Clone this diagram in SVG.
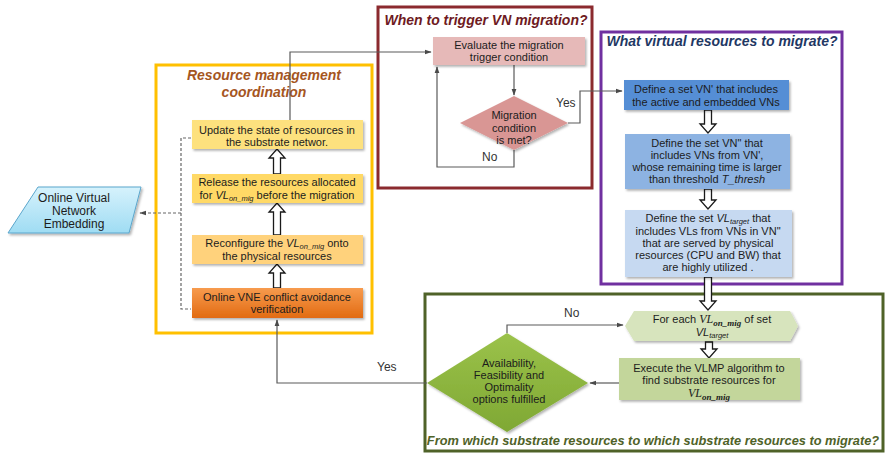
<svg xmlns="http://www.w3.org/2000/svg" width="886" height="454" viewBox="0 0 886 454">
  <style>
    text { font-family: "Liberation Sans", Arial, sans-serif; font-size: 11px; fill: #1c1c1c; }
    .c { text-anchor: middle; }
    .title { font-weight: bold; font-style: italic; }
    .lbl { font-size: 12px; fill: #333; }
    .frame { fill: #ffffff; stroke-width: 3; }
    .box { filter: url(#shadow); }
    .conn { fill: none; stroke: #5a5a5a; stroke-width: 1.2; }
    .dash { fill: none; stroke: #666; stroke-width: 1.2; stroke-dasharray: 3 2; }
    .block { fill: #ffffff; stroke: #1a1a1a; stroke-width: 1.3; stroke-linejoin: miter; }
    .it { font-style: italic; }
    .sub { font-style: italic; font-size: 7.5px; }
    .math { font-family: "Liberation Serif", "Times New Roman", serif; font-style: italic; }
  </style>
  <defs>
    <filter id="shadow" x="-10%" y="-10%" width="125%" height="140%">
      <feDropShadow dx="1.5" dy="1.8" stdDeviation="1" flood-color="#000" flood-opacity="0.3"/>
    </filter>
    <marker id="ah" viewBox="0 0 10 10" refX="9" refY="5" markerWidth="6" markerHeight="6" orient="auto-start-reverse">
      <path d="M0,1.5 L10,5 L0,8.5 z" fill="#4a4a4a"/>
    </marker>
    <linearGradient id="gOrange" x1="0" y1="0" x2="0" y2="1">
      <stop offset="0" stop-color="#F79B4E"/>
      <stop offset="1" stop-color="#E26B12"/>
    </linearGradient>
    <linearGradient id="gCyan" x1="0" y1="0" x2="0" y2="1">
      <stop offset="0" stop-color="#D6F2FC"/>
      <stop offset="1" stop-color="#9FDCF3"/>
    </linearGradient>
    <linearGradient id="gGreen" x1="0" y1="0" x2="0" y2="1">
      <stop offset="0" stop-color="#9BC24A"/>
      <stop offset="1" stop-color="#7FA834"/>
    </linearGradient>
  </defs>

  <!-- section frames -->
  <g id="frame-coordination">
    <rect class="frame" x="156" y="65" width="216" height="268" stroke="#FFC000"/>
    <text class="c title" x="264" y="80" style="font-size:14px;fill:#A5561F">Resource management</text>
    <text class="c title" x="264" y="97" style="font-size:14px;fill:#A5561F">coordination</text>
  </g>
  <g id="frame-trigger">
    <rect class="frame" x="378" y="7" width="214" height="181" stroke="#8B2A2E"/>
    <text class="c title" x="486" y="25" style="font-size:14px;fill:#6E1A22">When to trigger VN migration?</text>
  </g>
  <g id="frame-virtual">
    <rect class="frame" x="601" y="32" width="241" height="252" stroke="#7030A0"/>
    <text class="c title" x="722" y="46" style="font-size:14px;fill:#1F3864">What virtual resources to migrate?</text>
  </g>
  <g id="frame-substrate">
    <rect class="frame" x="425" y="294" width="458" height="157" stroke="#4F6228"/>
    <text class="c title" x="653" y="445" style="font-size:12.8px;fill:#4F6228">From which substrate resources to which substrate resources to migrate?</text>
  </g>

  <!-- connectors -->
  <g id="connectors">
    <polyline class="conn" points="290,120 290,52 431,52" marker-end="url(#ah)"/>
    <polyline class="dash" points="191,138 181,138 181,309 191,309"/>
    <polyline class="dash" points="181,213 140,213" marker-end="url(#ah)"/>
    <line class="conn" x1="514" y1="65" x2="514" y2="95" marker-end="url(#ah)"/>
    <polyline class="conn" points="514,150 514,167 437,167 437,67" marker-end="url(#ah)"/>
    <polyline class="conn" points="568,123 580,123 580,91 622,91" marker-end="url(#ah)"/>
    <polyline class="conn" points="507,333 507,325 623,325" marker-end="url(#ah)"/>
    <line class="conn" x1="619" y1="383" x2="590" y2="383" marker-end="url(#ah)"/>
    <polyline class="conn" points="427,383 277,383 277,320" marker-end="url(#ah)"/>
    <text class="lbl" x="556" y="107">Yes</text>
    <text class="lbl" x="482" y="161">No</text>
    <text class="lbl" x="564" y="317">No</text>
    <text class="lbl" x="377" y="371">Yes</text>

    <!-- hollow block arrows -->
    <polygon class="block" points="273.5,174 280.5,174 280.5,158 285,158 277,149 269,158 273.5,158"/>
    <polygon class="block" points="273.5,235 280.5,235 280.5,212 285,212 277,203 269,212 273.5,212"/>
    <polygon class="block" points="273.5,288 280.5,288 280.5,273 285,273 277,264 269,273 273.5,273"/>
    <polygon class="block" points="704.5,110 711.5,110 711.5,124 716,124 708,133 700,124 704.5,124"/>
    <polygon class="block" points="704.5,189 711.5,189 711.5,200 716,200 708,209 700,200 704.5,200"/>
    <polygon class="block" points="704.5,277 711.5,277 711.5,301 716,301 708,310 700,301 704.5,301"/>
    <polygon class="block" points="705.5,342 712.5,342 712.5,349 717,349 709,358 701,349 705.5,349"/>
  </g>

  <!-- external process -->
  <g id="online-vne">
    <polygon class="box" points="38,187 141,187 129,233 8,233" fill="url(#gCyan)" stroke="#5BA6CC" stroke-width="1"/>
    <text class="c" x="74" y="202" style="font-size:12px">Online Virtual</text>
    <text class="c" x="74" y="215" style="font-size:12px">Network</text>
    <text class="c" x="74" y="228" style="font-size:12px">Embedding</text>
  </g>

  <!-- resource management coordination -->
  <g id="update-state">
    <rect class="box" x="192" y="120" width="171" height="29" fill="#FDE17E"/>
    <text class="c" x="277" y="134">Update the state of resources in</text>
    <text class="c" x="277" y="146">the substrate networ.</text>
  </g>
  <g id="release-resources">
    <rect class="box" x="192" y="174" width="171" height="29" fill="#FFD966"/>
    <text class="c" x="277" y="186">Release the resources allocated</text>
    <text class="c" x="277" y="199">for <tspan class="it">VL</tspan><tspan class="sub" dy="2">on_mig</tspan><tspan dy="-2"> before the migration</tspan></text>
  </g>
  <g id="reconfigure">
    <rect class="box" x="192" y="235" width="171" height="29" fill="#FFD27C"/>
    <text class="c" x="277" y="246.5">Reconfigure the <tspan class="it">VL</tspan><tspan class="sub" dy="2">on_mig</tspan><tspan dy="-2"> onto</tspan></text>
    <text class="c" x="277" y="260">the physical resources</text>
  </g>
  <g id="conflict-verification">
    <rect class="box" x="192" y="288" width="171" height="30" fill="url(#gOrange)"/>
    <text class="c" x="277" y="301">Online VNE conflict avoidance</text>
    <text class="c" x="277" y="313">verification</text>
  </g>

  <!-- migration trigger -->
  <g id="evaluate-trigger">
    <rect class="box" x="433" y="37" width="152" height="28" fill="#E6B9B8"/>
    <text class="c" x="509" y="49">Evaluate the migration</text>
    <text class="c" x="509" y="61">trigger condition</text>
  </g>
  <g id="condition-met">
    <polygon class="box" points="514,96 568,123 514,150 460,123" fill="#D99694"/>
    <text class="c" x="514" y="119">Migration</text>
    <text class="c" x="514" y="132">condition</text>
    <text class="c" x="514" y="144">is met?</text>
  </g>

  <!-- virtual resources selection -->
  <g id="define-vn1">
    <rect class="box" x="624" y="80" width="165" height="30" fill="#558ED5"/>
    <text class="c" x="706" y="93">Define a set VN' that includes</text>
    <text class="c" x="706" y="106">the active and embedded VNs</text>
  </g>
  <g id="define-vn2">
    <rect class="box" x="625" y="134" width="165" height="55" fill="#8DB3E2"/>
    <text class="c" x="707" y="147">Define the set VN" that</text>
    <text class="c" x="707" y="159">includes  VNs from VN',</text>
    <text class="c" x="707" y="171">whose remaining time is larger</text>
    <text class="c" x="707" y="183">than threshold <tspan class="it">T_thresh</tspan></text>
  </g>
  <g id="define-vl-target">
    <rect class="box" x="625" y="210" width="167" height="67" fill="#C6D9F1"/>
    <text class="c" x="708" y="221.5">Define the set <tspan class="it">VL</tspan><tspan class="sub" dy="2">target</tspan><tspan dy="-2"> that</tspan></text>
    <text class="c" x="708" y="235">includes VLs from VNs in  VN"</text>
    <text class="c" x="708" y="247">that are served by physical</text>
    <text class="c" x="708" y="259">resources (CPU and BW) that</text>
    <text class="c" x="708" y="271">are highly utilized .</text>
  </g>

  <!-- substrate resources selection -->
  <g id="for-each-vl">
    <polygon class="box" points="625,326 634,311 790,311 798,326 790,341 634,341" fill="#D7E4BD"/>
    <text class="c" x="712" y="323">For each <tspan class="math" style="font-size:12px">VL</tspan><tspan class="math" dy="2.5" style="font-size:9px;font-weight:bold">on_mig</tspan><tspan dy="-2.5"> of set</tspan></text>
    <text class="c" x="712" y="336"><tspan class="it">VL</tspan><tspan class="sub" dy="2">target</tspan></text>
  </g>
  <g id="execute-vlmp">
    <rect class="box" x="619" y="358" width="181" height="42" fill="#C3D69B"/>
    <text class="c" x="709" y="372">Execute the VLMP algorithm to</text>
    <text class="c" x="709" y="384">find substrate resources for</text>
    <text class="c" x="709" y="397"><tspan class="math" style="font-size:12px">VL</tspan><tspan class="math" dy="2.5" style="font-size:9px;font-weight:bold">on_mig</tspan></text>
  </g>
  <g id="options-fulfilled">
    <polygon class="box" points="507,333 588,383 507,432 427,383" fill="url(#gGreen)"/>
    <text class="c" x="509" y="367">Availability,</text>
    <text class="c" x="509" y="379">Feasibility and</text>
    <text class="c" x="509" y="391">Optimality</text>
    <text class="c" x="509" y="403">options fulfilled</text>
  </g>
</svg>
